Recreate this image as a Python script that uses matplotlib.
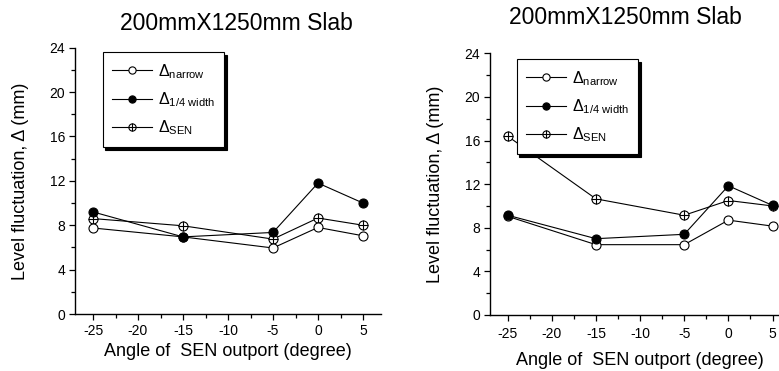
import matplotlib
matplotlib.use("Agg")
import matplotlib.pyplot as plt
from matplotlib.ticker import MultipleLocator
from matplotlib.legend_handler import HandlerTuple

plt.rcParams['font.family'] = ['Liberation Sans', 'DejaVu Sans']
plt.rcParams['mathtext.fontset'] = 'custom'
plt.rcParams['mathtext.rm'] = 'Liberation Sans'
plt.rcParams['mathtext.it'] = 'Liberation Sans'
plt.rcParams['mathtext.bf'] = 'Liberation Sans:bold'
plt.rcParams['axes.unicode_minus'] = False

angles = [-25, -15, -5, 0, 5]

left_narrow = [7.75, 6.95, 5.95, 7.8, 7.05]
left_quarter = [9.2, 6.95, 7.35, 11.8, 10.0]
left_sen = [8.6, 7.95, 6.75, 8.65, 8.0]

right_narrow = [9.05, 6.45, 6.45, 8.7, 8.15]
right_quarter = [9.15, 7.0, 7.4, 11.85, 10.05]
right_sen = [16.4, 10.65, 9.15, 10.5, 10.0]

title = "200mmX1250mm Slab"
xlabel = "Angle of  SEN outport (degree)"
ylabel = "Level fluctuation, Δ (mm)"
labels = [r'$\Delta_{\mathrm{narrow}}$', r'$\Delta_{\mathrm{1/4\ width}}$', r'$\Delta_{\mathrm{SEN}}$']

W, H = 779, 371
fig = plt.figure(figsize=(W / 100, H / 100), dpi=100)

def px_axes(x0, x1, ytop, ybot):
    return fig.add_axes([x0 / W, 1 - ybot / H, (x1 - x0) / W, (ybot - ytop) / H])

ms = 6.5
lw = 0.8

def draw(ax, narrow, quarter, sen, legend_anchor, title_xy, xpad, tpad):
    s1, = ax.plot(angles, sen, '-', color='k', lw=lw, marker='o', ms=ms,
                  mfc='white', mec='k', mew=0.8, zorder=3)
    s2, = ax.plot(angles, sen, ' ', marker='+', ms=ms, mec='k', mew=0.8, zorder=3.1)
    n, = ax.plot(angles, narrow, '-', color='k', lw=lw, marker='o', ms=ms,
                 mfc='white', mec='k', mew=0.8, zorder=4)
    q, = ax.plot(angles, quarter, '-', color='k', lw=lw, marker='o', ms=ms,
                 mfc='black', mec='k', mew=0.8, zorder=5)
    ax.set_xlim(-27, 7)
    ax.set_ylim(0, 24)
    ax.xaxis.set_major_locator(MultipleLocator(5))
    ax.xaxis.set_minor_locator(MultipleLocator(2.5))
    ax.yaxis.set_major_locator(MultipleLocator(4))
    ax.yaxis.set_minor_locator(MultipleLocator(2))
    for sp in ['top', 'right']:
        ax.spines[sp].set_visible(False)
    for sp in ['left', 'bottom']:
        ax.spines[sp].set_linewidth(1.0)
    ax.tick_params(which='major', direction='out', length=4, width=0.9, labelsize=10, pad=3)
    ax.tick_params(axis='x', which='major', pad=tpad)
    ax.tick_params(which='minor', direction='out', length=3, width=0.9)
    ax.set_xlabel(xlabel, fontsize=13, labelpad=xpad)
    ax.set_ylabel(ylabel, fontsize=13, labelpad=15)
    leg = ax.legend([n, q, (s1, s2)], labels, loc='upper left',
                    bbox_to_anchor=legend_anchor, borderaxespad=0,
                    fontsize=11.5, handlelength=2.5, handletextpad=0.35,
                    labelspacing=0.6, borderpad=0.6, fancybox=False,
                    markerscale=0.8,
                    handler_map={tuple: HandlerTuple(ndivide=1)},
                    shadow={'color': 'black', 'alpha': 1.0})
    leg.get_frame().set_edgecolor('black')
    leg.get_frame().set_linewidth(0.8)
    leg.get_frame().set_alpha(1)
    fig.text(title_xy[0] / W, 1 - title_xy[1] / H, title, fontsize=16.5,
             ha='center', va='center')
    return ax

axL = px_axes(75, 381, 47.7, 314)
draw(axL, left_narrow, left_quarter, left_sen,
     ((102.7 - 75) / 306, (314 - 52.3) / 266.3), (236, 23), 4, 3)

axR = px_axes(490, 790.2, 53.3, 315)
draw(axR, right_narrow, right_quarter, right_sen,
     ((516.7 - 490) / 300.2, (315 - 59.3) / 261.7), (625, 18), 8, 4.5)

fig.savefig("out.png", dpi=100)
